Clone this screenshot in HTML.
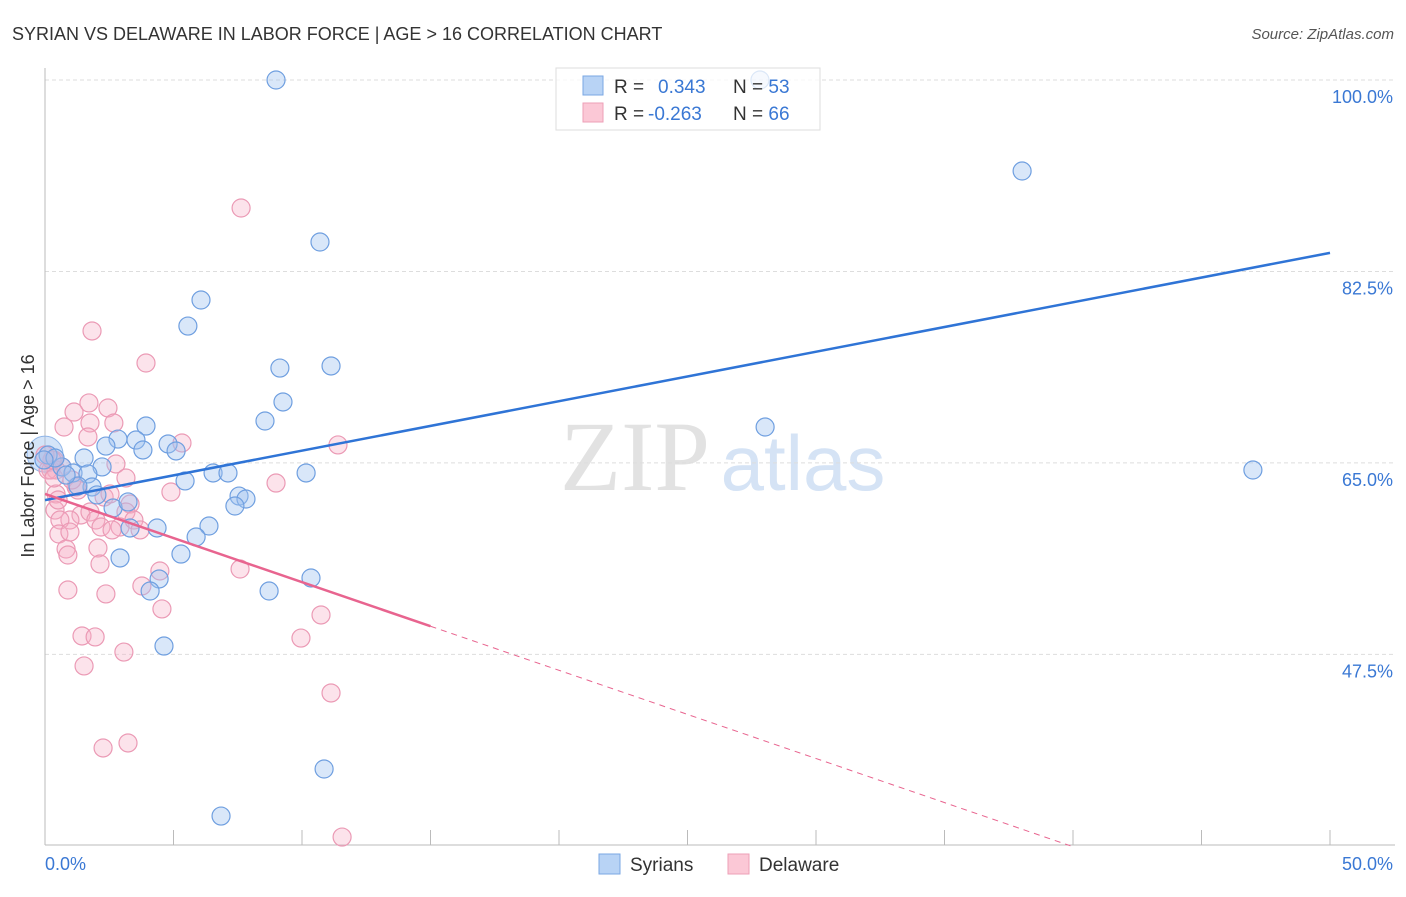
<!DOCTYPE html>
<html><head><meta charset="utf-8"><style>
body{margin:0;background:#fff;width:1406px;height:892px;overflow:hidden;font-family:"Liberation Sans",sans-serif}
</style></head><body>
<svg id="chart" width="1406" height="892" xmlns="http://www.w3.org/2000/svg">
<text x="12" y="40" font-size="18" fill="#333">SYRIAN VS DELAWARE IN LABOR FORCE | AGE &gt; 16 CORRELATION CHART</text>
<text x="1394" y="39" font-size="15" fill="#555" font-style="italic" text-anchor="end">Source: ZipAtlas.com</text>
<text x="635" y="490" font-size="100" fill="#e2e2e2" font-family="Liberation Serif,serif" text-anchor="middle">ZIP</text>
<text x="803" y="490" font-size="78" fill="#d5e3f5" text-anchor="middle">atlas</text>
<g id="grid"></g><g id="marks"></g>
<text transform="translate(34,456) rotate(-90)" font-size="18" fill="#333" text-anchor="middle">In Labor Force | Age &gt; 16</text>
<text x="45" y="870" font-size="18" fill="#3a78d4">0.0%</text>
<text x="1393" y="870" font-size="18" fill="#3a78d4" text-anchor="end">50.0%</text>
<g>
<rect x="556" y="68" width="264" height="62" fill="rgba(255,255,255,0.75)" stroke="#ddd"/>
<rect x="583" y="76" width="20" height="19" fill="#b8d3f5" stroke="#7aa7e3"/>
<rect x="583" y="103" width="20" height="19" fill="#fbc8d6" stroke="#ee9fb7"/>
<text x="614" y="93" font-size="19" fill="#333">R = <tspan fill="#3a78d4" x="658">0.343</tspan><tspan x="733" fill="#333">N = </tspan><tspan fill="#3a78d4">53</tspan></text>
<text x="614" y="120" font-size="19" fill="#333">R = <tspan fill="#3a78d4" x="648">-0.263</tspan><tspan x="733" fill="#333">N = </tspan><tspan fill="#3a78d4">66</tspan></text>
</g>
<g>
<rect x="599" y="854" width="21" height="20" fill="#b8d3f5" stroke="#7aa7e3"/>
<text x="630" y="871" font-size="19" fill="#333">Syrians</text>
<rect x="728" y="854" width="21" height="20" fill="#fbc8d6" stroke="#ee9fb7"/>
<text x="759" y="871" font-size="19" fill="#333">Delaware</text>
</g>
</svg>
<script>
const yTicks=[100,82.5,65,47.5];
const xTicks=[0,5,10,15,20,25,30,35,40,45,50];
const bluePx=[[276,80],[760,80],[1022,171],[320,242],[201,300],[188,326],[280,368],[331,366],[283,402],[265,421],[765,427],[146,426],[118,439],[136,440],[168,444],[143,450],[106,446],[176,451],[1253,470],[84,458],[102,467],[213,473],[228,473],[185,481],[62,467],[73,473],[88,474],[92,487],[78,486],[306,473],[97,495],[239,496],[246,499],[235,506],[113,508],[128,502],[209,526],[157,528],[130,528],[196,537],[181,554],[120,558],[159,579],[311,578],[150,591],[269,591],[164,646],[324,769],[221,816],[48,455],[55,458],[66,475],[44,460]];
const pinkPx=[[241,208],[92,331],[146,363],[89,403],[74,412],[108,408],[64,427],[90,423],[114,423],[88,437],[182,443],[338,445],[54,460],[62,467],[116,464],[51,470],[126,478],[56,470],[76,487],[78,490],[171,492],[276,483],[104,497],[110,494],[56,494],[130,504],[55,510],[81,515],[70,520],[60,520],[90,512],[96,520],[126,512],[59,534],[70,532],[101,527],[120,527],[134,520],[112,530],[140,530],[66,549],[98,548],[68,555],[100,564],[240,569],[160,571],[142,586],[68,590],[106,594],[162,609],[321,615],[82,636],[95,637],[301,638],[124,652],[84,666],[331,693],[103,748],[128,743],[342,837],[48,470],[52,460],[45,455],[58,500],[72,480],[54,478]];
const syrianX=bluePx.map(p=>+((p[0]-45)/25.7).toFixed(2));
const syrianY=bluePx.map(p=>+(100-(p[1]-80)/10.94).toFixed(2));
const delawareX=pinkPx.map(p=>+((p[0]-45)/25.7).toFixed(2));
const delawareY=pinkPx.map(p=>+(100-(p[1]-80)/10.94).toFixed(2));
const blueTrend=[61.6,0.452];
const pinkTrend=[62.16,-0.806];
function sx(v){return 45+v*25.7;}
function sy(v){return 80+(100-v)*10.94;}
const NS='http://www.w3.org/2000/svg';
function mk(t,a,parent){const e=document.createElementNS(NS,t);for(const k in a)e.setAttribute(k,a[k]);parent.appendChild(e);return e;}
const grid=document.getElementById('grid'),marks=document.getElementById('marks');
yTicks.forEach(t=>{
 const l=mk('line',{x1:45,x2:1395,y1:sy(t),y2:sy(t),stroke:'#ddd','stroke-dasharray':'4,3'},grid);
 
 
 const tx=mk('text',{x:1393,y:sy(t)+23,'font-size':18,fill:'#3a78d4','text-anchor':'end'},grid);
 tx.textContent=t.toFixed(1)+'%';
 
 
});
const ax=mk('line',{x1:45,x2:45,y1:68,y2:845,stroke:'#bbb'},grid);


const bx=mk('line',{x1:45,x2:1395,y1:845,y2:845,stroke:'#bbb'},grid);


xTicks.forEach(t=>{
 const l=mk('line',{x1:sx(t),x2:sx(t),y1:830,y2:845,stroke:'#bbb'},grid);
 
 
});
const big=mk('circle',{cx:sx(0),cy:sy(65.8),r:18,fill:'rgba(160,195,240,0.45)',stroke:'#8fb5e8'},marks);


delawareX.forEach((x,i)=>{
 const c=mk('circle',{cx:sx(x),cy:sy(delawareY[i]),r:9,fill:'rgba(246,175,198,0.35)',stroke:'#eb9ab5','stroke-width':1.2},marks);
 
 
});
syrianX.forEach((x,i)=>{
 const c=mk('circle',{cx:sx(x),cy:sy(syrianY[i]),r:9,fill:'rgba(160,195,240,0.4)',stroke:'#6f9fe0','stroke-width':1.2},marks);
 
 
});
const bl=mk('line',{x1:sx(0),y1:sy(blueTrend[0]),x2:sx(50),y2:sy(blueTrend[0]+50*blueTrend[1]),stroke:'#2f74d6','stroke-width':2.5},marks);


const pl=mk('line',{x1:sx(0),y1:sy(pinkTrend[0]),x2:sx(15),y2:sy(pinkTrend[0]+15*pinkTrend[1]),stroke:'#e8648f','stroke-width':2.5},marks);


const xe=(30-pinkTrend[0])/pinkTrend[1];
const pd=mk('line',{x1:sx(15),y1:sy(pinkTrend[0]+15*pinkTrend[1]),x2:sx(xe),y2:sy(30),stroke:'#e8648f','stroke-width':1,'stroke-dasharray':'6,5'},marks);


</script>
</body></html>
